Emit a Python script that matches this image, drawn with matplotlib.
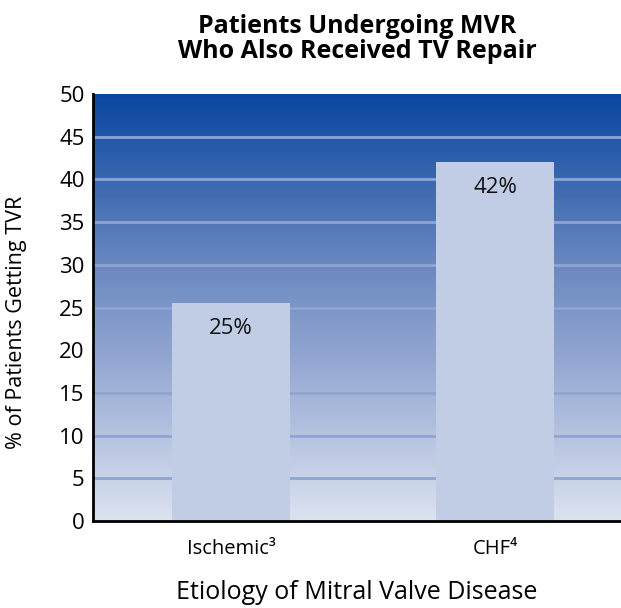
import numpy as np
import matplotlib.pyplot as plt
from matplotlib.colors import LinearSegmentedColormap

# values
categories = ['Ischemic³', 'CHF⁴']
values = [25.5, 42]
bar_labels = ['25%', '42%']
yticks = [0, 5, 10, 15, 20, 25, 30, 35, 40, 45, 50]

plt.rcParams['font.family'] = ['Open Sans', 'DejaVu Sans']

fig = plt.figure(figsize=(6.21, 6.08), dpi=100)
ax = fig.add_axes([93 / 621, 1 - 521 / 608, 1 - 93 / 621, (521 - 94) / 608])

x = np.arange(len(categories))
ax.set_xlim(-0.523, 1.477)
ax.set_ylim(0, 50)

# gradient background
cmap = LinearSegmentedColormap.from_list(
    'bg', [(0, '#dce3f0'), (0.4, '#8fa3d0'), (0.6, '#6a88c0'), (1, '#0a46a0')])
grad = np.linspace(0, 1, 256).reshape(-1, 1)
ax.imshow(grad, cmap=cmap, origin='lower', aspect='auto',
          extent=[-0.523, 1.477, 0, 50], zorder=0)

# grid lines
for t in yticks[1:-1]:
    ax.axhline(t, color='#8fa4d1', lw=2, zorder=1)

bars = ax.bar(x, values, width=0.447, color='#c1cde5', zorder=2)
for b, lab in zip(bars, bar_labels):
    ax.annotate(lab, (b.get_x() + b.get_width() / 2, b.get_height()),
                xytext=(0, -18), textcoords='offset points',
                ha='center', va='center', fontsize=16, color='#111111')

ax.set_xticks(x)
ax.set_xticklabels(categories, fontsize=14.5)
ax.set_yticks(yticks)
ax.set_yticklabels([str(t) for t in yticks], fontsize=16)
ax.tick_params(length=0, pad=6)
ax.tick_params(axis='x', pad=13)

for s in ['top', 'right']:
    ax.spines[s].set_visible(False)
for s in ['left', 'bottom']:
    ax.spines[s].set_linewidth(2)
    ax.spines[s].set_color('black')
    ax.spines[s].set_zorder(3)

ax.set_ylabel('% of Patients Getting TVR', fontsize=15.5)
ax.yaxis.set_label_coords(-0.125, 0.466)
ax.set_xlabel('Etiology of Mitral Valve Disease', fontsize=18, labelpad=15)
ax.set_title('Patients Undergoing MVR\nWho Also Received TV Repair',
             fontsize=18, fontweight='bold', pad=26, linespacing=1.0)

fig.savefig('out.png', dpi=100)
